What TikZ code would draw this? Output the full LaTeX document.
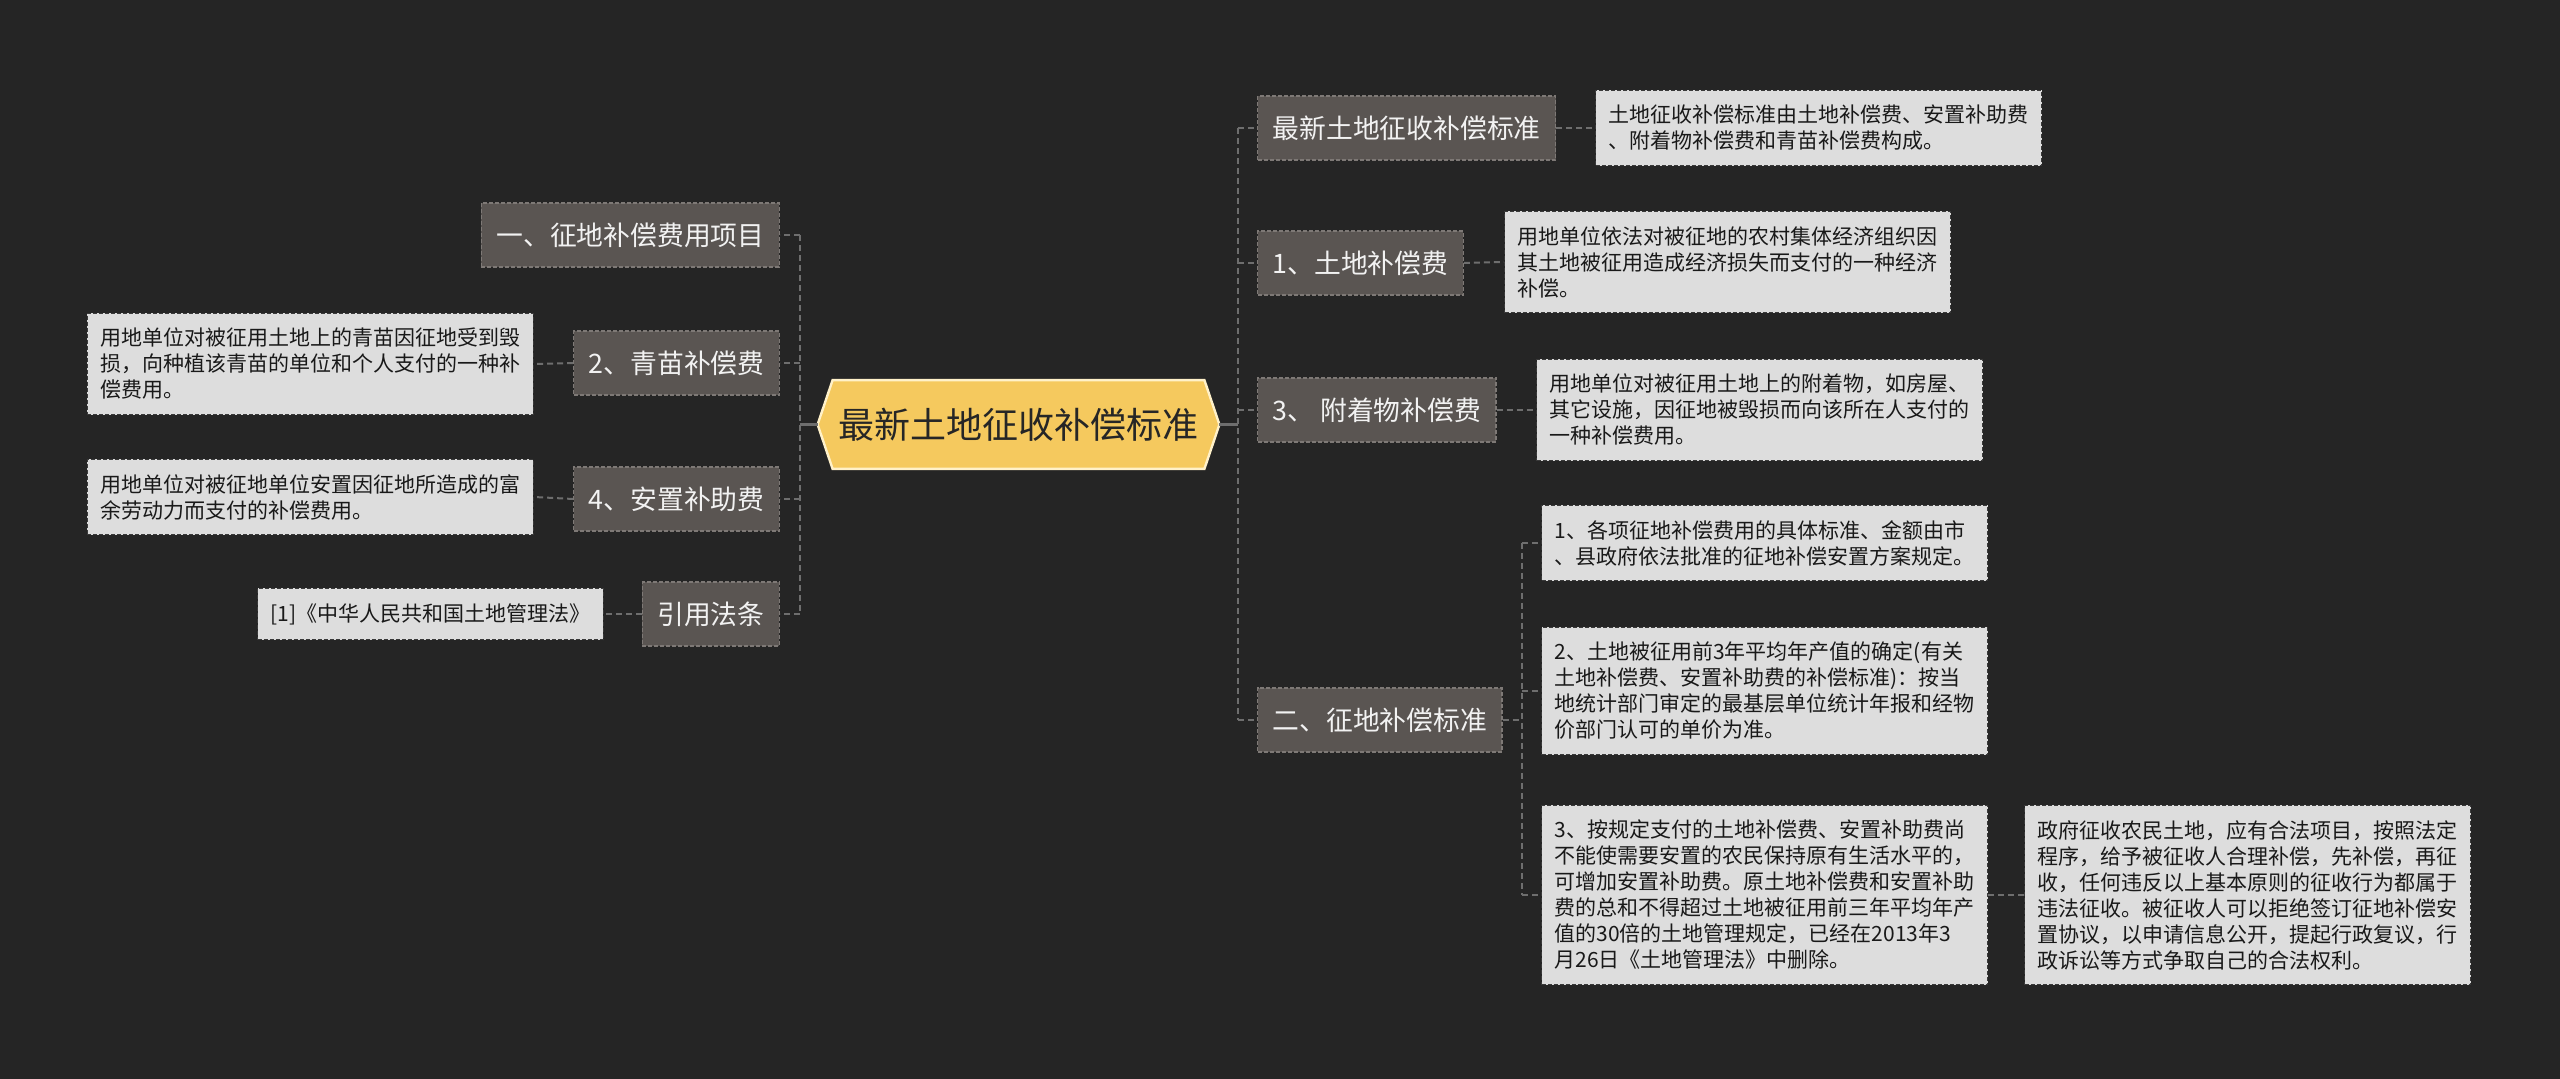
\documentclass[tikz,border=0pt]{standalone}
\usepackage{fontspec}
\setmainfont{Noto Sans CJK SC}
\usetikzlibrary{calc}
\definecolor{bg}{HTML}{252525}
\definecolor{lvfill}{HTML}{5A5552}
\definecolor{lvdraw}{HTML}{7E7976}
\definecolor{leaffill}{HTML}{DDDDDD}
\definecolor{leafdraw}{HTML}{3A3A3A}
\definecolor{rootfill}{HTML}{F5C95E}
\definecolor{rootdraw}{HTML}{FFF1C9}
\definecolor{conn}{HTML}{6E6E6E}
\tikzset{
  lvbox/.style={fill=lvfill, draw=lvdraw, dash pattern=on 2pt off 1pt, line width=0.6pt,
    text=white!95!black, font=\fontsize{13.4}{16}\selectfont, minimum height=32pt,
    inner xsep=7.5pt, inner ysep=0pt},
  leafbox/.style={fill=leaffill, draw=leafdraw, dash pattern=on 2pt off 1pt, line width=0.6pt,
    text=black!90, font=\fontsize{10.5}{13}\selectfont, align=left,
    inner xsep=6.5pt, inner ysep=7.5pt},
  trunk/.style={draw=conn, line width=1pt, dash pattern=on 3pt off 2pt},
  stub/.style={draw=conn, line width=1pt, dash pattern=on 3pt off 2pt},
  rootlink/.style={draw=conn, line width=1.2pt},
}
\begin{document}
\begin{tikzpicture}[x=0.5pt,y=-0.5pt]
\fill[bg] (0,0) rectangle (2560,1079);
\useasboundingbox (0,0) rectangle (2560,1079);

% root
\node[minimum width=185.5pt, minimum height=44pt, inner sep=0pt] (root) at (1018.5,424.5) {};
\fill[rootfill, draw=rootdraw, line width=1.2pt]
  (root.north west) -- (root.north east) -- ($(root.east)+(15,0)$) -- (root.south east)
  -- (root.south west) -- ($(root.west)+(-15,0)$) -- cycle;
\node[text=black!85, font=\fontsize{18}{22}\selectfont] at (root) {最新土地征收补偿标准};
\coordinate (rootR) at ($(root.east)+(15,0)$);
\coordinate (rootL) at ($(root.west)+(-15,0)$);
\coordinate (rt) at (1238,424.5);
\coordinate (lt) at (800,424.5);

% right level 1
\node[lvbox, anchor=west] (R1) at (1257,128) {最新土地征收补偿标准};
\node[lvbox, anchor=west] (R2) at (1257,263) {1、土地补偿费};
\node[lvbox, anchor=west] (R3) at (1257,410) {3、 附着物补偿费};
\node[lvbox, anchor=west] (R4) at (1257,720) {二、征地补偿标准};

% right leaves
\node[leafbox, anchor=west] (L1) at (1595,128) {土地征收补偿标准由土地补偿费、安置补助费\\、附着物补偿费和青苗补偿费构成。};
\node[leafbox, anchor=west] (L2) at (1504,262) {用地单位依法对被征地的农村集体经济组织因\\其土地被征用造成经济损失而支付的一种经济\\补偿。};
\node[leafbox, anchor=west] (L3) at (1536,410) {用地单位对被征用土地上的附着物，如房屋、\\其它设施，因征地被毁损而向该所在人支付的\\一种补偿费用。};
\node[leafbox, anchor=west] (L4a) at (1541,543) {1、各项征地补偿费用的具体标准、金额由市\\、县政府依法批准的征地补偿安置方案规定。};
\node[leafbox, anchor=west] (L4b) at (1541,691) {2、土地被征用前3年平均年产值的确定(有关\\土地补偿费、安置补助费的补偿标准)：按当\\地统计部门审定的最基层单位统计年报和经物\\价部门认可的单价为准。};
\node[leafbox, anchor=west] (L4c) at (1541,895) {3、按规定支付的土地补偿费、安置补助费尚\\不能使需要安置的农民保持原有生活水平的，\\可增加安置补助费。原土地补偿费和安置补助\\费的总和不得超过土地被征用前三年平均年产\\值的30倍的土地管理规定，已经在2013年3\\月26日《土地管理法》中删除。};
\node[leafbox, anchor=west] (L4d) at (2024,895) {政府征收农民土地，应有合法项目，按照法定\\程序，给予被征收人合理补偿，先补偿，再征\\收，任何违反以上基本原则的征收行为都属于\\违法征收。被征收人可以拒绝签订征地补偿安\\置协议，以申请信息公开，提起行政复议，行\\政诉讼等方式争取自己的合法权利。};

% left level 1
\node[lvbox, anchor=east] (P1) at (780,235) {一、征地补偿费用项目};
\node[lvbox, anchor=east] (P2) at (780,363) {2、青苗补偿费};
\node[lvbox, anchor=east] (P3) at (780,499) {4、安置补助费};
\node[lvbox, anchor=east] (P4) at (780,614) {引用法条};

% left leaves
\node[leafbox, anchor=east] (Q2) at (534,364) {用地单位对被征用土地上的青苗因征地受到毁\\损，向种植该青苗的单位和个人支付的一种补\\偿费用。};
\node[leafbox, anchor=east] (Q3) at (534,497) {用地单位对被征地单位安置因征地所造成的富\\余劳动力而支付的补偿费用。};
\node[leafbox, anchor=east] (Q4) at (604,614) {[1]《中华人民共和国土地管理法》};

% connectors right
\draw[rootlink] (rootR) -- (rt);
\draw[trunk] (rt |- R1.west) -- (rt |- R4.west);
\foreach \n in {R1,R2,R3,R4} \draw[stub] (rt |- \n.west) -- (\n.west);
\draw[stub] (R1.east) -- (L1.west);
\draw[stub] (R2.east) -- (L2.west);
\draw[stub] (R3.east) -- (L3.west);
\coordinate (st) at (1522,720);
\draw[stub] (R4.east) -- (st);
\draw[trunk] (st |- L4a.west) -- (st |- L4c.west);
\foreach \n in {L4a,L4b,L4c} \draw[stub] (st |- \n.west) -- (\n.west);
\draw[stub] (L4c.east) -- (L4d.west);

% connectors left
\draw[rootlink] (rootL) -- (lt);
\draw[trunk] (lt |- P1.east) -- (lt |- P4.east);
\foreach \n in {P1,P2,P3,P4} \draw[stub] (lt |- \n.east) -- (\n.east);
\draw[stub] (P2.west) -- (Q2.east);
\draw[stub] (P3.west) -- (Q3.east);
\draw[stub] (P4.west) -- (Q4.east);
\end{tikzpicture}
\end{document}
